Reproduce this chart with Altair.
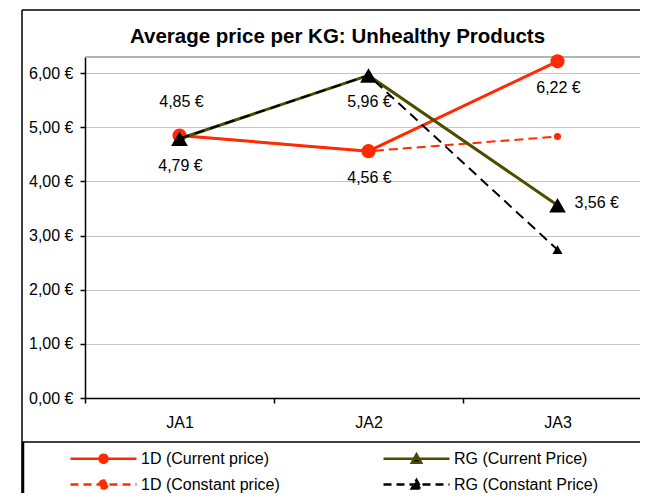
import altair as alt
import pandas as pd

# ---------------- data ----------------
categories = ["JA1", "JA2", "JA3"]
series_names = ["1D (Current price)", "RG (Current Price)",
                "1D (Constant price)", "RG (Constant Price)"]
cur_1d = [4.85, 4.56, 6.22]
cur_rg = [4.79, 5.96, 3.56]
const_1d = [4.85, 4.56, 4.83]
const_rg = [4.79, 5.96, 2.74]
y_ticks = [0, 1, 2, 3, 4, 5, 6]

rows = []
for name, vals in zip(series_names, [cur_1d, cur_rg, const_1d, const_rg]):
    for c, v in zip(categories, vals):
        rows.append({"category": c, "series": name, "value": v})
df = pd.DataFrame(rows)

# ---------------- styles ----------------
RED = "#FF2A00"
OLIVE = "#4D4D00"
BLACK = "#000000"
FONT = "Liberation Sans, Arial, sans-serif"
W, H, XR = 555, 341, 567

x_enc = alt.X(
    "category:N",
    scale=alt.Scale(type="band", domain=categories, range=[0, XR],
                    paddingInner=0, paddingOuter=0),
    axis=alt.Axis(title=None, tickBand="extent", labelAngle=0, grid=False,
                  tickSize=5, labelPadding=11, labelFontSize=16,
                  domainWidth=1.5, tickWidth=1.5),
)
y_enc = alt.Y(
    "value:Q",
    scale=alt.Scale(domain=[0, 6.3], nice=False, zero=True),
    axis=alt.Axis(title=None, values=y_ticks, grid=True, gridColor="#C4C4C4",
                  gridWidth=1.2, tickSize=5, labelPadding=7, labelFontSize=16,
                  domainWidth=1.5, tickWidth=1.5,
                  labelExpr="replace(format(datum.value, '.2f'), '.', ',') + ' €'"),
)

base = alt.Chart(df)


def series_layers(name, color, width, dash, shape, size):
    sub = base.transform_filter(alt.datum.series == name)
    line_kw = dict(color=color, strokeWidth=width)
    if dash:
        line_kw["strokeDash"] = dash
    ln = sub.mark_line(**line_kw).encode(x=x_enc, y=y_enc)
    pt = sub.mark_point(filled=True, shape=shape, size=size, color=BLACK if "RG" in name else color,
                        opacity=1).encode(x=x_enc, y=y_enc)
    return [ln, pt]


layers = []
layers += series_layers(series_names[2], RED, 2, [9, 5], "circle", 50)
layers += series_layers(series_names[0], RED, 3, None, "circle", 200)
layers += series_layers(series_names[1], OLIVE, 3, None, "triangle-up", 280)
layers += series_layers(series_names[3], BLACK, 2, [10, 6], "triangle-up", 100)

# data labels
lbl = base.transform_calculate(
    lbl="replace(format(datum.value, '.2f'), '.', ',') + ' €'"
)
txt_kw = dict(font=FONT, fontSize=16, color=BLACK, baseline="middle")
above = lbl.transform_filter(
    (alt.datum.series == series_names[0]) & (alt.datum.category == "JA1")
).mark_text(dy=-33, dx=2, align="center", **txt_kw).encode(x=x_enc, y=y_enc, text="lbl:N")
below = lbl.transform_filter(
    ((alt.datum.series == series_names[0]) & (alt.datum.category != "JA1"))
    | ((alt.datum.series == series_names[1]) & (alt.datum.category != "JA3"))
).mark_text(dy=27, dx=1, align="center", **txt_kw).encode(x=x_enc, y=y_enc, text="lbl:N")
right = lbl.transform_filter(
    (alt.datum.series == series_names[1]) & (alt.datum.category == "JA3")
).mark_text(dx=17, dy=-2, align="left", **txt_kw).encode(x=x_enc, y=y_enc, text="lbl:N")
layers += [above, below, right]

# legend (ghost layer carrying the merged legend): line segment + marker symbols
legend_paths = [
    "M-1,0H5.6M1.9,0A0.4,0.4,0,1,1,2.7,0A0.4,0.4,0,1,1,1.9,0Z",
    "M-1,0H5.6M1.83,0.4L2.77,0.4L2.3,-0.45Z",
    "M-1,0H5.6M1.9,0A0.4,0.4,0,1,1,2.7,0A0.4,0.4,0,1,1,1.9,0Z",
    "M-1,0H5.6M1.83,0.4L2.77,0.4L2.3,-0.45Z",
]
leg = alt.Legend(title=None)
ghost = base.transform_filter("false").mark_point(opacity=1, strokeWidth=2.5).encode(
    x=x_enc, y=y_enc,
    shape=alt.Shape("series:N", scale=alt.Scale(domain=series_names, range=legend_paths), legend=leg),
    fill=alt.Fill("series:N", scale=alt.Scale(domain=series_names, range=[RED, BLACK, RED, BLACK]), legend=leg),
    stroke=alt.Stroke("series:N", scale=alt.Scale(domain=series_names, range=[RED, OLIVE, RED, BLACK]), legend=leg),
    strokeDash=alt.StrokeDash("series:N", scale=alt.Scale(domain=series_names,
                                                           range=[[1, 0], [1, 0], [8, 5], [8, 5]]), legend=leg),
)
layers.append(ghost)

# frame decorations
one = alt.Data(values=[{}])
top_border = alt.Chart(one).mark_rule(color="#9A9A9A", strokeWidth=1.5).encode(
    x=alt.value(0), x2=alt.value(W), y=alt.value(0))
frame_left = alt.Chart(one).mark_rule(color=BLACK, strokeWidth=1.5).encode(
    x=alt.value(-63), y=alt.value(-47), y2=alt.value(440))
frame_left2 = alt.Chart(one).mark_rule(color=BLACK, strokeWidth=2.5).encode(
    x=alt.value(-62), y=alt.value(385), y2=alt.value(440))
frame_top = alt.Chart(one).mark_rule(color=BLACK, strokeWidth=1.5).encode(
    x=alt.value(-63), x2=alt.value(W + 20), y=alt.value(-47))
frame_legend = alt.Chart(one).mark_rule(color=BLACK, strokeWidth=1.5).encode(
    x=alt.value(-63), x2=alt.value(W + 20), y=alt.value(385))
layers = [top_border] + layers + [frame_left, frame_left2, frame_top, frame_legend]

chart = alt.layer(*layers).properties(
    width=W, height=H,
    autosize=alt.AutoSizeParams(type="none"),
    padding={"left": 77, "top": 49, "right": 0, "bottom": 95},
    title=alt.TitleParams(
        text="Average price per KG: Unhealthy Products",
        font=FONT, fontSize=20.5, fontWeight="bold", color=BLACK,
        anchor="middle", frame="group", dx=-25, offset=-54.5, baseline="alphabetic",
    ),
).configure_view(stroke=None).configure_axis(
    labelFont=FONT, labelColor=BLACK, domainColor=BLACK, tickColor=BLACK,
).configure_legend(
    orient="none", legendX=-16, legendY=390, direction="horizontal", columns=2,
    columnPadding=98, rowPadding=5, symbolSize=400, symbolStrokeWidth=2.5,
    labelFont=FONT, labelFontSize=16, labelColor=BLACK, labelOffset=49,
    labelLimit=400, padding=0, symbolOpacity=1,
)

chart.save("out.html", embed_options={"renderer": "svg", "actions": False})
